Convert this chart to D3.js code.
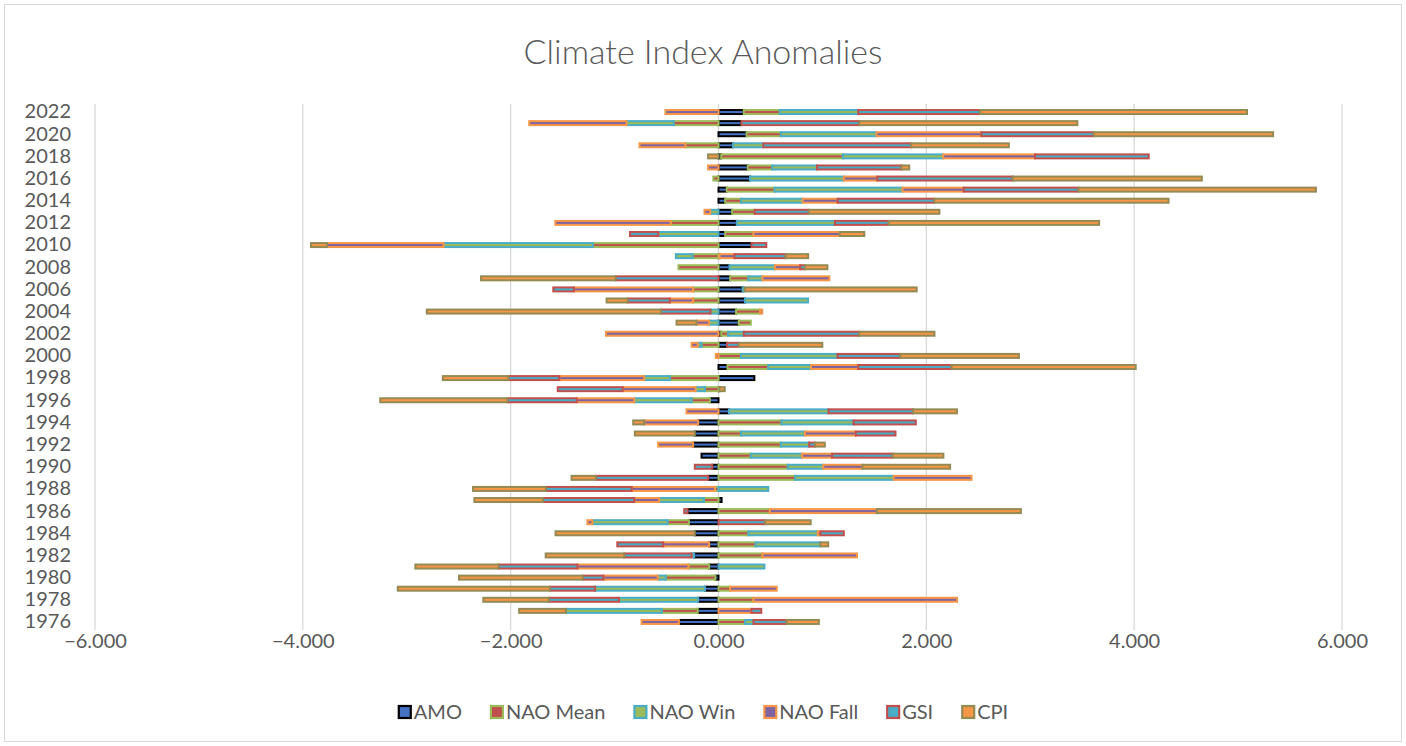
<!DOCTYPE html>
<html>
<head>
<meta charset="utf-8">
<script src="https://cdn.jsdelivr.net/npm/d3@7"></script>
<style>
  body { margin: 0; background: #fff; }
  svg text { font-family: Lato, "Open Sans", sans-serif; fill: #595959; }
</style>
</head>
<body>
<div id="chart"></div>
<script>
const years = d3.range(1976, 2023);

// values 1976 .. 2022
const amo = [-0.381, -0.2, -0.196, -0.13, -0.03, -0.09, -0.234, -0.09, -0.228, -0.285,
  -0.298, 0.03, 0.0, -0.1, -0.061, -0.163, -0.244, -0.228, -0.196, 0.1,
  -0.083, 0.01, 0.345, 0.086, 0.0, 0.082, 0.026, 0.195, 0.169, 0.255,
  0.232, 0.112, 0.105, 0.01, 0.318, 0.064, 0.176, 0.131, 0.064, 0.079,
  0.303, 0.281, 0.026, 0.139, 0.27, 0.221, 0.243];
const naoMean = [0.255, -0.346, 0.337, 0.112, -0.478, -0.2, 0.423, 0.356, 0.288, -0.205,
  0.494, -0.141, -0.035, 0.738, 0.667, 0.311, 0.6, 0.217, 0.607, 0.0,
  -0.176, -0.13, -0.468, 0.393, 0.217, -0.163, 0.067, 0.116, 0.232, -0.244,
  -0.244, 0.176, -0.385, -0.25, -1.21, 0.273, -0.46, 0.217, 0.154, 0.46,
  -0.05, 0.236, 1.17, -0.32, 0.33, -0.43, 0.345];
const naoWin = [0.082, -0.923, -0.763, -1.058, -0.077, 0.442, -0.026, 0.625, 0.667, -0.724,
  0.0, -0.43, 0.479, 0.948, 0.341, 0.494, 0.273, 0.614, 0.693, 0.959,
  -0.551, -0.09, -0.247, 0.412, 0.929, -0.038, 0.15, -0.09, -0.077, 0.607,
  0.02, 0.135, 0.438, -0.16, -1.436, -0.58, 0.944, -0.08, 0.592, 1.232,
  0.903, 0.431, 0.966, 0.292, 0.92, -0.455, 0.757];
const naoFall = [-0.359, 0.318, 1.959, 0.449, -0.522, -1.067, 0.91, -0.442, 0.026, -0.048,
  1.03, -0.24, -0.8, 0.749, 0.378, 0.288, -0.337, 0.49, -0.519, -0.308,
  -0.554, -0.702, -0.817, 0.453, -0.026, -0.058, -1.083, -0.122, 0.02, -0.224,
  -1.147, 0.644, 0.243, 0.142, -1.122, 0.83, -1.11, -0.055, 0.337, 0.588,
  0.322, -0.1, 0.884, -0.44, 1.01, -0.936, -0.51];
const gsi = [0.318, 0.094, -0.673, -0.433, -0.2, -0.76, -0.647, -0.442, 0.225, 0.449,
  -0.032, -0.878, -0.827, -1.08, -0.167, 0.584, 0.056, 0.382, 0.599, 0.813,
  -0.667, -0.625, -0.49, 0.899, 0.603, 0.112, 1.112, 0.0, -0.477, -0.407,
  -0.199, -0.99, 0.045, 0.494, 0.142, -0.272, 0.517, 0.52, 0.929, 1.105,
  1.303, 0.813, 1.094, 1.423, 1.08, 1.135, 1.172];
const cpi = [0.311, -0.449, -0.631, -1.465, -1.19, -0.8, -0.756, 0.075, -1.34, 0.438,
  1.386, -0.66, -0.7, -0.234, 0.843, 0.487, 0.094, -0.577, -0.106, 0.423,
  -1.224, 0.05, -0.631, 1.772, 1.142, 0.805, 0.723, -0.192, -2.253, -0.202,
  1.655, -1.295, 0.217, 0.217, -0.154, 0.236, 2.026, 1.258, 2.255, 2.285,
  1.82, 0.075, -0.1, 0.94, 1.727, 2.097, 2.569];

const seriesNames = ["AMO", "NAO Mean", "NAO Win", "NAO Fall", "GSI", "CPI"];
const seriesValues = [amo, naoMean, naoWin, naoFall, gsi, cpi];
const fillColors = ["#4472C4", "#C0504D", "#9BBB59", "#8064A2", "#4BACC6", "#F79646"];
const strokeColors = ["#000000", "#9BBB59", "#4BACC6", "#F79646", "#C0504D", "#948A54"];
const xTicks = [-6, -4, -2, 0, 2, 4, 6];
const yLabelYears = years.filter(y => y % 2 === 0);

const width = 1406, height = 746;

const rows = years.map((yr, i) => {
  const r = { year: yr };
  seriesNames.forEach((s, j) => r[s] = seriesValues[j][i]);
  return r;
});

const stacked = d3.stack()
  .keys(seriesNames)
  .offset(d3.stackOffsetDiverging)(rows);

const svg = d3.select("#chart").append("svg")
  .attr("width", width)
  .attr("height", height);

// chart border
svg.append("rect")
  .attr("x", 4.5).attr("y", 4.5)
  .attr("width", width - 9).attr("height", height - 9)
  .attr("fill", "none")
  .attr("stroke", "#d9d9d9");

const xScale = d3.scaleLinear().domain([-6, 6]).range([95, 1342]);
const yScale = d3.scaleBand()
  .domain(years.slice().reverse())
  .range([106.5, 627.5])
  .paddingInner(0);

// gridlines
svg.append("g")
  .selectAll("line")
  .data(xTicks)
  .join("line")
  .attr("x1", d => xScale(d)).attr("x2", d => xScale(d))
  .attr("y1", 104).attr("y2", 630)
  .attr("stroke", "#d9d9d9")
  .attr("stroke-width", 1.3);

// bars
const barH = 4;
svg.append("g")
  .selectAll("g")
  .data(stacked)
  .join("g")
  .attr("fill", (d, i) => fillColors[i])
  .attr("stroke", (d, i) => strokeColors[i])
  .attr("stroke-width", 2)
  .selectAll("rect")
  .data(d => d.filter(p => p[1] - p[0] !== 0))
  .join("rect")
  .attr("x", p => xScale(Math.min(p[0], p[1])))
  .attr("width", p => Math.abs(xScale(p[1]) - xScale(p[0])))
  .attr("y", p => yScale(p.data.year) + yScale.bandwidth() / 2 - barH / 2)
  .attr("height", barH);

// x axis labels
const xAxis = d3.axisBottom(xScale)
  .tickValues(xTicks)
  .tickFormat(d3.format(".3f"))
  .tickSize(0)
  .tickPadding(0);
const gx = svg.append("g")
  .attr("transform", "translate(0,630)")
  .call(xAxis);
gx.select(".domain").remove();
gx.selectAll("text")
  .attr("dy", "0.9em")
  .style("font-size", "20px")
  .style("fill", "#595959");

// y axis labels
const yAxis = d3.axisLeft(yScale)
  .tickValues(yLabelYears)
  .tickSize(0)
  .tickPadding(0);
const gy = svg.append("g")
  .attr("transform", "translate(71,0)")
  .call(yAxis);
gy.select(".domain").remove();
gy.selectAll("text")
  .style("font-size", "20px")
  .style("fill", "#595959");

// title
svg.append("text")
  .attr("x", 703)
  .attr("y", 64)
  .attr("text-anchor", "middle")
  .style("font-size", "34px")
  .style("font-weight", 300)
  .text("Climate Index Anomalies");

// legend
const legend = svg.append("g");
let lx = 0;
seriesNames.forEach((name, i) => {
  const item = legend.append("g").attr("transform", `translate(${lx},0)`);
  item.append("rect")
    .attr("x", 1).attr("y", -6)
    .attr("width", 12).attr("height", 12)
    .attr("fill", fillColors[i])
    .attr("stroke", strokeColors[i])
    .attr("stroke-width", 2.2);
  const t = item.append("text")
    .attr("x", 16)
    .attr("y", 7)
    .style("font-size", "20px")
    .text(name);
  lx += 16 + t.node().getComputedTextLength() + 28;
});
lx -= 28;
legend.attr("transform", `translate(${(width - lx) / 2},712)`);
</script>
</body>
</html>
